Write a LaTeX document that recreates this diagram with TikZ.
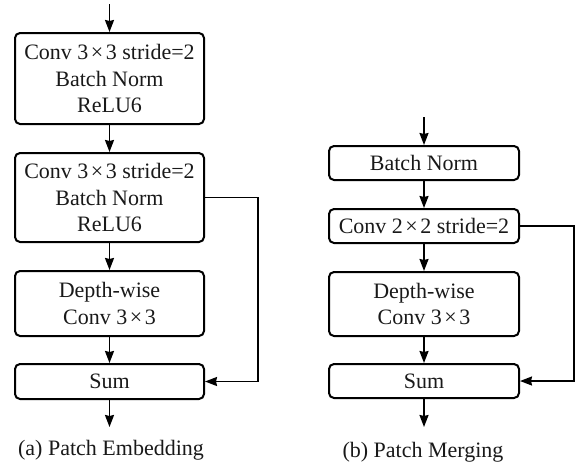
\documentclass[tikz,border=0pt]{standalone}
\usepackage{fontspec}
\setmainfont{Liberation Serif}
\usetikzlibrary{arrows.meta}
\newcommand{\tms}{\hspace{2.5pt}×\hspace{2.5pt}}
\begin{document}
\begin{tikzpicture}[x=1pt,y=-1pt,
  blk/.style={draw, line width=2pt, rounded corners=5pt, align=center, inner sep=0pt,
    font=\fontsize{22}{26.7}\selectfont, text=black!90},
  captext/.style={font=\fontsize{22}{26.7}\selectfont, text=black!90},
  arr/.style={line width=1.7pt, -{Stealth[length=12pt,width=9pt,inset=1pt]}}]
\useasboundingbox (0,0) rectangle (585,464);
% left column
\node[blk, minimum width=189pt, minimum height=91pt] (a1) at (109.5,78.5) {Conv 3\tms3 stride=2\\Batch Norm\\ReLU6};
\node[blk, minimum width=189pt, minimum height=89pt] (a2) at (109.5,197.5) {Conv 3\tms3 stride=2\\Batch Norm\\ReLU6};
\node[blk, minimum width=189pt, minimum height=65pt] (a3) at (109.5,303.5) {Depth-wise\\Conv 3\tms3};
\node[blk, minimum width=189pt, minimum height=35pt] (a4) at (109.5,381.5) {Sum};
\coordinate (ain) at (109.5,4);
\coordinate (aout) at (109.5,427);
\coordinate (ac) at (258,197.5);
\draw[arr] (ain) -- (a1);
\draw[arr] (a1) -- (a2);
\draw[arr] (a2) -- (a3);
\draw[arr] (a3) -- (a4);
\draw[arr] (a4) -- (aout);
\draw[arr] (a2.east) -- (ac) |- (a4.east);
\node[captext] (capa) at (111,450) {(a) Patch Embedding};
% right column
\node[blk, minimum width=190pt, minimum height=34pt] (b1) at (424,163) {Batch Norm};
\node[blk, minimum width=190pt, minimum height=34pt] (b2) at (424,226) {Conv 2\tms2 stride=2};
\node[blk, minimum width=190pt, minimum height=64pt] (b3) at (424,304) {Depth-wise\\Conv 3\tms3};
\node[blk, minimum width=190pt, minimum height=34pt] (b4) at (424,381) {Sum};
\coordinate (bin) at (424,117);
\coordinate (bout) at (424,427);
\coordinate (bc) at (574,226);
\draw[arr] (bin) -- (b1);
\draw[arr] (b1) -- (b2);
\draw[arr] (b2) -- (b3);
\draw[arr] (b3) -- (b4);
\draw[arr] (b4) -- (bout);
\draw[arr] (b2.east) -- (bc) |- (b4.east);
\node[captext] (capb) at (423,452) {(b) Patch Merging};
\end{tikzpicture}
\end{document}
